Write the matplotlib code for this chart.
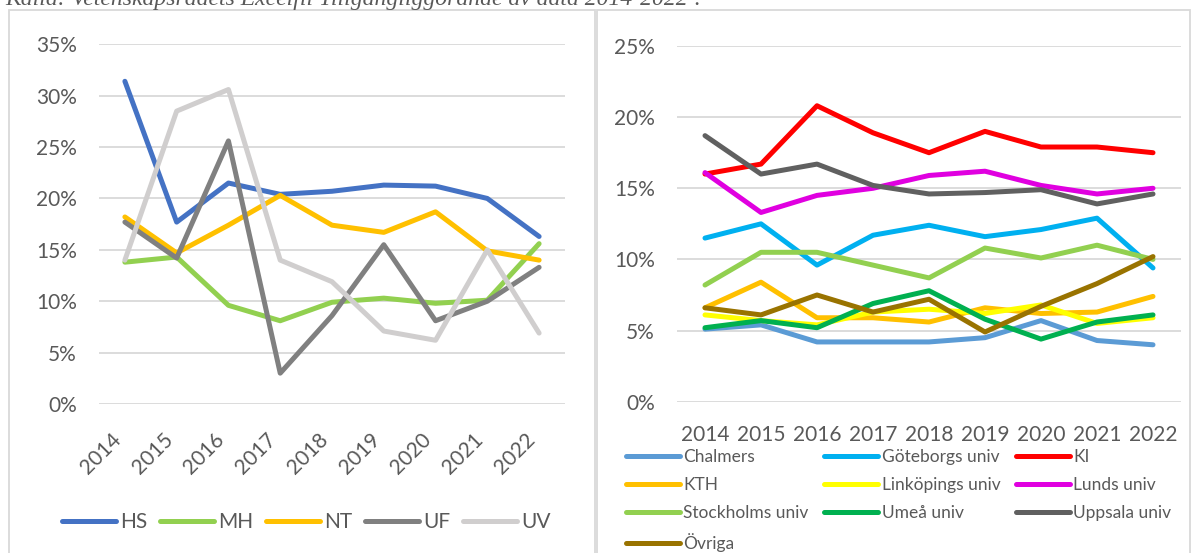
import matplotlib
matplotlib.use("Agg")
import matplotlib.pyplot as plt
from matplotlib.patches import Rectangle
from matplotlib.ticker import PercentFormatter

# data, share in percent per year
years = ["2014", "2015", "2016", "2017", "2018", "2019", "2020", "2021", "2022"]

area_names = ["HS", "MH", "NT", "UF", "UV"]
hs = [31.4, 17.7, 21.5, 20.4, 20.7, 21.3, 21.2, 20.0, 16.3]
mh = [13.8, 14.3, 9.6, 8.1, 9.9, 10.3, 9.8, 10.1, 15.6]
nt = [18.2, 14.7, 17.4, 20.3, 17.4, 16.7, 18.7, 14.9, 14.0]
uf = [17.7, 14.2, 25.6, 3.0, 8.6, 15.5, 8.1, 10.0, 13.3]
uv = [14.0, 28.5, 30.6, 14.0, 11.9, 7.1, 6.2, 15.0, 6.9]
area_colors = ["#4472C4", "#92D050", "#FFC000", "#808080", "#D0CECE"]

uni_names = ["Chalmers", "Göteborgs univ", "KI", "KTH", "Linköpings univ",
             "Lunds univ", "Stockholms univ", "Umeå univ", "Uppsala univ", "Övriga"]
chalmers = [5.1, 5.4, 4.2, 4.2, 4.2, 4.5, 5.7, 4.3, 4.0]
goteborg = [11.5, 12.5, 9.6, 11.7, 12.4, 11.6, 12.1, 12.9, 9.4]
ki = [16.0, 16.7, 20.8, 18.9, 17.5, 19.0, 17.9, 17.9, 17.5]
kth = [6.6, 8.4, 5.9, 5.9, 5.6, 6.6, 6.2, 6.3, 7.4]
linkoping = [6.1, 5.7, 5.4, 6.3, 6.5, 6.2, 6.8, 5.5, 5.9]
lund = [16.1, 13.3, 14.5, 15.0, 15.9, 16.2, 15.2, 14.6, 15.0]
stockholm = [8.2, 10.5, 10.5, 9.6, 8.7, 10.8, 10.1, 11.0, 10.0]
umea = [5.2, 5.7, 5.2, 6.9, 7.8, 5.8, 4.4, 5.6, 6.1]
uppsala = [18.7, 16.0, 16.7, 15.2, 14.6, 14.7, 14.9, 13.9, 14.6]
ovriga = [6.6, 6.1, 7.5, 6.3, 7.2, 4.9, 6.7, 8.3, 10.2]
uni_colors = ["#5B9BD5", "#00B0F0", "#FF0000", "#FFC000", "#FFFF00",
              "#E000E0", "#92D050", "#00B050", "#606060", "#997300"]

caption = "Källa: Vetenskapsrådets Excelfil Tillgängliggörande av data 2014-2022²."

TEXT = "#595959"
GRID = "#D9D9D9"
W, H = 1199, 553

plt.rcParams["font.family"] = ["Lato", "DejaVu Sans"]


def style_axes(ax, ymax, tick_size):
    ax.set_xlim(-0.5, len(years) - 0.5)
    ax.set_ylim(0, ymax)
    ax.set_yticks(range(0, ymax + 1, 5))
    ax.yaxis.set_major_formatter(PercentFormatter(xmax=100, decimals=0))
    ax.grid(axis="y", color=GRID, linewidth=1.3)
    ax.set_axisbelow(True)
    for s in ax.spines.values():
        s.set_visible(False)
    ax.tick_params(length=0, colors=TEXT, labelsize=tick_size)
    ax.tick_params(axis="y", pad=16)


def draw_lines(ax, series, names, colors, lw):
    handles = []
    for vals, name, col in zip(series, names, colors):
        (h,) = ax.plot(range(len(years)), vals, color=col, lw=lw, label=name,
                       solid_capstyle="round", solid_joinstyle="round", clip_on=False)
        handles.append(h)
    return handles


fig = plt.figure(figsize=(W / 100, H / 100), dpi=100)

# panel frames
for x0, x1 in [(9, 595), (597, 1190)]:
    fig.patches.append(Rectangle((x0 / W, -0.05), (x1 - x0) / W, 1.05 - 10 / H,
                                 transform=fig.transFigure, fill=False,
                                 edgecolor=GRID, lw=1.3))

# caption above the charts, cut by the top edge as in the source
fig.text(5 / W, 1 - 5 / H, caption, family="Liberation Serif", style="italic",
         fontsize=17, color=TEXT, ha="left", va="baseline")

# left chart: research areas
ax1 = fig.add_axes([99 / W, (H - 404) / H, 466 / W, 359.7 / H])
style_axes(ax1, 35, 15)
h1 = draw_lines(ax1, [hs, mh, nt, uf, uv], area_names, area_colors, 3.6)
ax1.set_xticks(range(len(years)), years, rotation=45, ha="right", va="top")
ax1.tick_params(axis="x", pad=18)
fig.legend(handles=h1, loc="center", bbox_to_anchor=(306 / W, (H - 522) / H),
           ncol=5, frameon=False, fontsize=15, labelcolor=TEXT,
           handlelength=2.6, handletextpad=0.2, columnspacing=0.6)

# right chart: universities
ax2 = fig.add_axes([677 / W, (H - 401.7) / H, 504 / W, 355.7 / H])
style_axes(ax2, 25, 15)
h2 = draw_lines(ax2, [chalmers, goteborg, ki, kth, linkoping, lund, stockholm,
                      umea, uppsala, ovriga], uni_names, uni_colors, 3.6)
ax2.set_xticks(range(len(years)), years)
ax2.tick_params(axis="x", pad=17)
# legend fills column-wise, reorder so it reads row by row
order = [0, 3, 6, 9, 1, 4, 7, 2, 5, 8]
fig.legend(handles=[h2[i] for i in order], loc="upper left",
           bbox_to_anchor=(626 / W, (H - 449) / H), ncol=3, frameon=False,
           fontsize=12.5, labelcolor=TEXT, borderpad=0, borderaxespad=0,
           handlelength=3.1, handletextpad=0.2, columnspacing=0.9, labelspacing=0.7)

fig.savefig("out.png", dpi=100)
